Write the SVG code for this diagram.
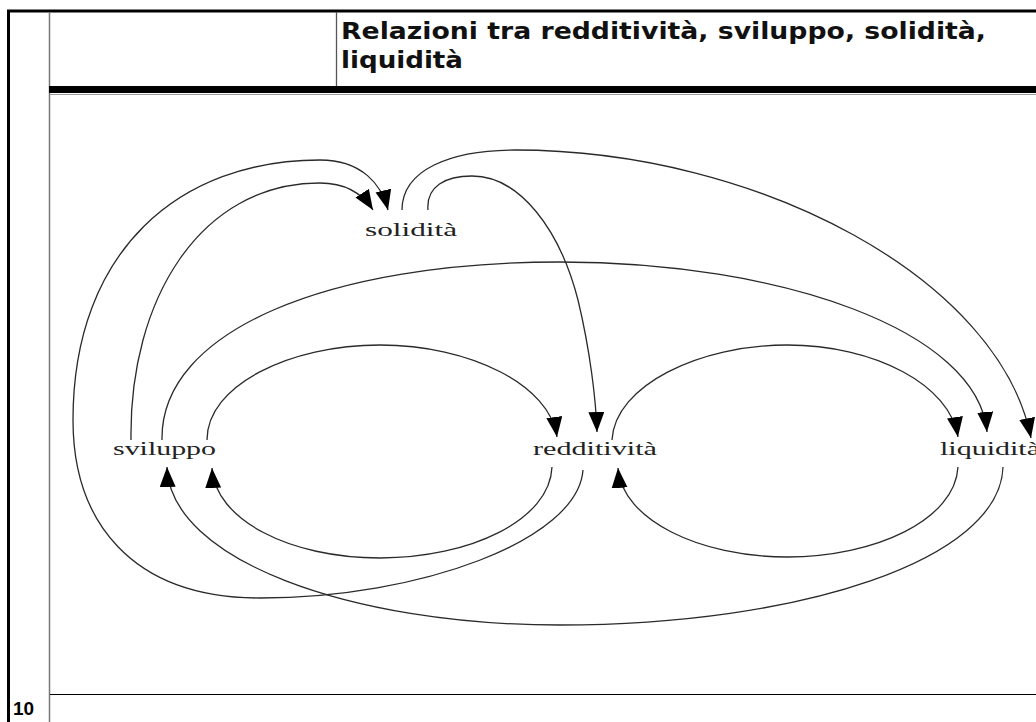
<svg xmlns="http://www.w3.org/2000/svg" width="1036" height="722" viewBox="0 0 1036 722">
<style>
.title{font-family:"DejaVu Sans","Liberation Sans",sans-serif;font-weight:bold;font-size:23px;fill:#111}
.lbl{font-family:"Liberation Serif","DejaVu Serif",serif;font-size:18px;fill:#222}
.edge{fill:none;stroke:#2a2a2a;stroke-width:1.3}
.pg{font-family:"Liberation Sans",Arial,sans-serif;font-weight:bold;font-size:19px;fill:#000}
</style>
<defs>
<marker id="ah" markerUnits="userSpaceOnUse" markerWidth="22" markerHeight="18" refX="20" refY="8" orient="auto">
<path d="M0,0 L20,8 L0,16 z" fill="#000"/>
</marker>
</defs>
<rect width="1036" height="722" fill="#fff"/>
<g id="frame">
<line x1="7" y1="11" x2="1036" y2="11" stroke="#000" stroke-width="3"/>
<line x1="8.5" y1="10" x2="8.5" y2="722" stroke="#000" stroke-width="3"/>
<line x1="49.5" y1="12" x2="49.5" y2="722" stroke="#777" stroke-width="1.5"/>
<line x1="336.5" y1="12" x2="336.5" y2="86" stroke="#555" stroke-width="1.3"/>
<rect x="49" y="86" width="987" height="7" fill="#000"/>
<line x1="50" y1="94.5" x2="1036" y2="94.5" stroke="#999" stroke-width="1"/>
<line x1="50" y1="694.5" x2="1036" y2="694.5" stroke="#000" stroke-width="1.2"/>
<text class="pg" x="13" y="715">10</text>
</g>
<g id="title">
<text class="title" x="341" y="39" textLength="645" lengthAdjust="spacingAndGlyphs">Relazioni tra redditività, sviluppo, solidità,</text>
<text class="title" x="341" y="68" textLength="122" lengthAdjust="spacingAndGlyphs">liquidità</text>
</g>
<g id="connectors">
<path class="edge" marker-end="url(#ah)" d="M131,440 C129,300 200,183 320,183 C345,183 362,193 373,210"/>
<path class="edge" marker-end="url(#ah)" d="M583,470 C578,540 420,598 260,598 C130,598 73,520 73,420 C73,250 180,160 320,160 C362,160 382,185 388,210"/>
<path class="edge" marker-end="url(#ah)" d="M428,210 C426,186 446,176 472,176 C520,176 560,230 578,300 C590,350 596,400 597,432"/>
<path class="edge" marker-end="url(#ah)" d="M402,210 C402,170 450,150 515,150 C760,150 1000,280 1031,438"/>
<path class="edge" marker-end="url(#ah)" d="M162,440 C160,330 330,262 560,262 C780,262 978,330 987,432"/>
<path class="edge" marker-end="url(#ah)" d="M1003,467 C1000,560 800,625 560,625 C350,625 170,560 167,467"/>
<path class="edge" marker-end="url(#ah)" d="M207,440 C207,385 290,345 380,345 C470,345 550,385 557,437"/>
<path class="edge" marker-end="url(#ah)" d="M552,467 C550,520 470,558 380,558 C290,558 215,520 212,468"/>
<path class="edge" marker-end="url(#ah)" d="M612,440 C615,385 700,345 787,345 C875,345 950,385 958,437"/>
<path class="edge" marker-end="url(#ah)" d="M958,467 C955,520 875,557 787,557 C700,557 622,520 618,468"/>
</g>
<g id="node-solidita"><text class="lbl" x="365" y="236" textLength="92" lengthAdjust="spacingAndGlyphs">solidità</text></g>
<g id="node-sviluppo"><text class="lbl" x="113" y="455" textLength="103" lengthAdjust="spacingAndGlyphs">sviluppo</text></g>
<g id="node-redditivita"><text class="lbl" x="533" y="455" textLength="124" lengthAdjust="spacingAndGlyphs">redditività</text></g>
<g id="node-liquidita"><text class="lbl" x="940" y="455" textLength="100" lengthAdjust="spacingAndGlyphs">liquidità</text></g>
</svg>
